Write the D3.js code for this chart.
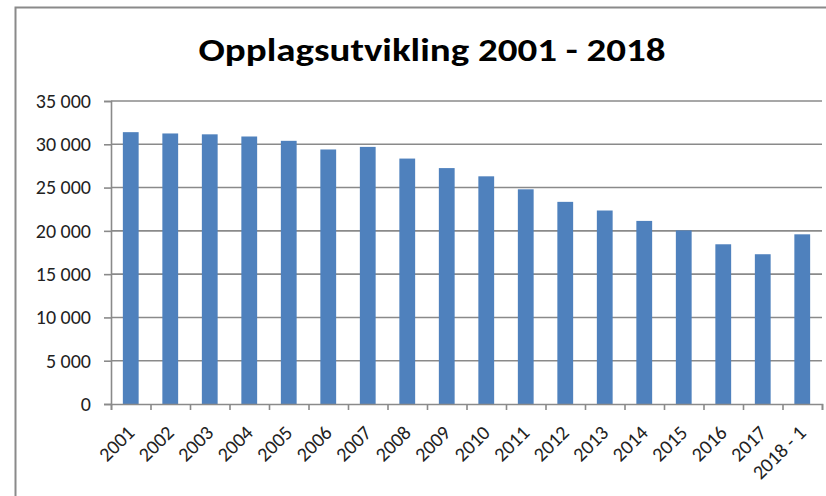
<!DOCTYPE html>
<html>
<head>
<meta charset="utf-8">
<script src="https://cdn.jsdelivr.net/npm/d3@7"></script>
<style>
  body { margin: 0; background: #fff; }
  svg { display: block; }
</style>
</head>
<body>
<div id="chart"></div>
<script>
// data
let years = ["2001", "2002", "2003", "2004", "2005", "2006", "2007", "2008", "2009",
             "2010", "2011", "2012", "2013", "2014", "2015", "2016", "2017", "2018 - 1"];
let opplag = [31400, 31250, 31150, 30900, 30400, 29400, 29700, 28350, 27250,
              26300, 24800, 23350, 22350, 21150, 20050, 18450, 17300, 19600];
let y_ticks = [0, 5000, 10000, 15000, 20000, 25000, 30000, 35000];
let title = "Opplagsutvikling 2001 - 2018";

function draw_chart(containerid) {
    let width = 826, height = 496;
    let svg = d3.select('#' + containerid).append('svg')
        .attr('width', width)
        .attr('height', height);

    let font = "Carlito, Lato, 'Liberation Sans', sans-serif";
    let margin = ({ top: 101, right: 4, bottom: 92, left: 111 });

    // ramme rundt diagrammet
    svg.append('rect')
        .attr('x', 15.5).attr('y', 7.5)
        .attr('width', width + 20).attr('height', height + 20)
        .attr('fill', 'none')
        .attr('stroke', '#8a8a8a')
        .attr('stroke-width', 2);

    svg.append('text')
        .attr('x', 432).attr('y', 61)
        .attr('text-anchor', 'middle')
        .attr('font-family', font)
        .attr('font-weight', 'bold')
        .attr('font-size', 32)
        .attr('textLength', 467)
        .attr('lengthAdjust', 'spacingAndGlyphs')
        .attr('fill', '#000')
        .text(title);

    let x = d3.scaleBand(years, [margin.left, width - margin.right]).paddingInner(0.6).paddingOuter(0.3);
    let xs = d3.scaleLinear([0, years.length], [margin.left, width - margin.right]);
    let y = d3.scaleLinear([0, 35000], [height - margin.bottom, margin.top]);

    // rutenett
    svg.append('g')
        .selectAll('line')
        .data(y_ticks.filter(d => d > 0))
        .join('line')
        .attr('x1', margin.left).attr('x2', width - margin.right)
        .attr('y1', d => y(d)).attr('y2', d => y(d))
        .attr('stroke', '#8a8a8a')
        .attr('stroke-width', 1.6);

    svg.append('g')
        .selectAll('rect')
        .data(opplag)
        .join('rect')
        .attr('x', (d, i) => x(years[i]))
        .attr('width', x.bandwidth())
        .attr('y', d => y(d))
        .attr('height', d => y(0) - y(d))
        .attr('fill', '#4f81bd');

    // y-akse
    let yAxis = svg.append('g')
        .attr('transform', `translate(${margin.left},0)`)
        .call(d3.axisLeft(y).tickValues(y_ticks).tickSize(7).tickPadding(13)
            .tickFormat(d => d3.format(',')(d).replace(/,/g, ' ')));
    yAxis.select('.domain').attr('stroke', '#8a8a8a').attr('stroke-width', 1.6);
    yAxis.selectAll('.tick line').attr('stroke', '#8a8a8a').attr('stroke-width', 1.6);
    yAxis.selectAll('text')
        .attr('font-family', font).attr('font-size', 20).attr('fill', '#222');

    // x-akse
    let xAxis = svg.append('g')
        .attr('transform', `translate(0,${y(0)})`)
        .call(d3.axisBottom(xs).tickValues(d3.range(years.length + 1))
            .tickSize(6).tickFormat(''));
    xAxis.select('.domain').attr('stroke', '#8a8a8a').attr('stroke-width', 1.6);
    xAxis.selectAll('.tick line').attr('stroke', '#8a8a8a').attr('stroke-width', 1.6);

    svg.append('g')
        .selectAll('text')
        .data(years)
        .join('text')
        .attr('transform', d => `translate(${x(d) + x.bandwidth() / 2 + 5},${y(0) + 30}) rotate(-45)`)
        .attr('text-anchor', 'end')
        .attr('font-family', font)
        .attr('font-size', 20)
        .attr('fill', '#222')
        .text(d => d);
}

draw_chart('chart');
</script>
</body>
</html>
